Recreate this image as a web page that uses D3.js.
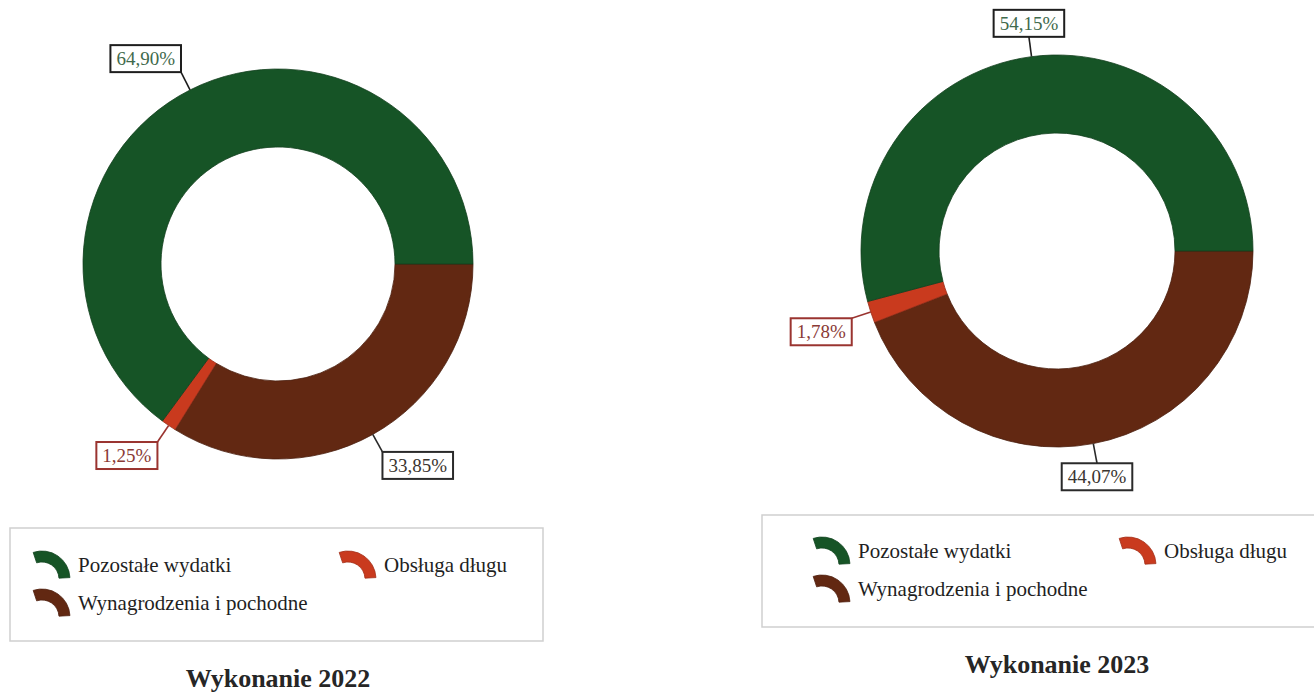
<!DOCTYPE html>
<html>
<head>
<meta charset="utf-8">
<script src="https://cdn.jsdelivr.net/npm/d3@7"></script>
<style>
  html, body { margin: 0; padding: 0; background: #fff; }
  svg { display: block; }
</style>
</head>
<body>
<svg id="chart" width="1314" height="692"></svg>
<script>
// ---- data ----
const categories = ["Wynagrodzenia i pochodne", "Obsługa długu", "Pozostałe wydatki"];
const values2022 = [33.85, 1.25, 64.90];
const values2023 = [44.07, 1.78, 54.15];
const labels2022 = ["33,85%", "1,25%", "64,90%"];
const labels2023 = ["44,07%", "1,78%", "54,15%"];
const titles = ["Wykonanie 2022", "Wykonanie 2023"];
const legendOrder = ["Pozostałe wydatki", "Obsługa długu", "Wynagrodzenia i pochodne"];

// ---- styles ----
const colors = d3.scaleOrdinal()
  .domain(categories)
  .range(["#622812", "#c93a1e", "#165426"]);
const labelText = d3.scaleOrdinal().domain(categories).range(["#3a3530", "#8a3a36", "#3f6a4c"]);
const labelBorder = d3.scaleOrdinal().domain(categories).range(["#2a2a2a", "#9a3430", "#1e1e1e"]);
const serif = "'Liberation Serif', 'Times New Roman', serif";

const svg = d3.select("#chart");

const charts = [
  { values: values2022, labels: labels2022, title: titles[0], cx: 278, cy: 264, R: 195, r: 117,
    titleY: 687,
    legend: { x: 10, y: 528, w: 533, h: 113, col1: 22, col2: 328, text: 46, row1: 24, row2: 62 } },
  { values: values2023, labels: labels2023, title: titles[1], cx: 1057, cy: 251, R: 196, r: 118,
    titleY: 673,
    legend: { x: 762, y: 515, w: 560, h: 112, col1: 50, col2: 356, text: 46, row1: 23, row2: 61 } }
];

charts.forEach(c => {
  const data = categories.map((cat, i) => ({ cat, value: c.values[i], label: c.labels[i] }));
  const pie = d3.pie().sort(null).value(d => d.value)
    .startAngle(Math.PI / 2).endAngle(Math.PI / 2 + 2 * Math.PI);
  const arcs = pie(data);
  const arc = d3.arc().innerRadius(c.r).outerRadius(c.R);

  const g = svg.append("g").attr("transform", `translate(${c.cx},${c.cy})`);
  g.selectAll("path.slice").data(arcs).join("path")
    .attr("class", "slice")
    .attr("d", arc)
    .attr("fill", d => colors(d.data.cat))
    .attr("stroke", d => d3.color(colors(d.data.cat)).darker(0.8))
    .attr("stroke-width", 0.8);

  // labels with leader lines
  arcs.forEach(a => {
    const mid = (a.startAngle + a.endAngle) / 2;
    const sx = Math.sin(mid), sy = -Math.cos(mid);
    const p0 = [c.R * sx, c.R * sy];
    const off = 20;
    const p1 = [(c.R + off) * sx, (c.R + off) * sy];
    g.append("line")
      .attr("x1", p0[0]).attr("y1", p0[1]).attr("x2", p1[0]).attr("y2", p1[1])
      .attr("stroke", labelBorder(a.data.cat)).attr("stroke-width", 1.6);

    const lg = g.append("g");
    const t = lg.append("text")
      .attr("font-family", serif).attr("font-size", 19)
      .attr("fill", labelText(a.data.cat))
      .text(a.data.label);
    const tw = t.node().getComputedTextLength();
    const bw = tw + 12, bh = 27;
    let bx, by;
    if (Math.abs(sx) < 0.2) bx = p1[0] - bw / 2;
    else if (sx < 0) bx = p1[0] - bw;
    else bx = p1[0];
    if (sy < 0) by = p1[1] - bh; else by = p1[1];
    lg.insert("rect", "text")
      .attr("x", bx).attr("y", by).attr("width", bw).attr("height", bh)
      .attr("fill", "#fff")
      .attr("stroke", labelBorder(a.data.cat)).attr("stroke-width", 2);
    t.attr("x", bx + 6).attr("y", by + bh / 2 + 6.5);
  });

  // legend
  const L = c.legend;
  const lgd = svg.append("g").attr("transform", `translate(${L.x},${L.y})`);
  lgd.append("rect")
    .attr("x", 0).attr("y", 0).attr("width", L.w).attr("height", L.h)
    .attr("fill", "#fff").attr("stroke", "#cfcfcf").attr("stroke-width", 1.5);
  const iconArc = d3.arc().innerRadius(17).outerRadius(28)
    .startAngle(-0.32).endAngle(Math.PI / 2 - 0.05);
  const pos = [
    { x: L.col1, y: L.row1 },
    { x: L.col2, y: L.row1 },
    { x: L.col1, y: L.row2 }
  ];
  legendOrder.forEach((name, i) => {
    const p = pos[i];
    const it = lgd.append("g").attr("transform", `translate(${p.x},${p.y})`);
    it.append("path")
      .attr("d", iconArc)
      .attr("transform", "translate(10,27)")
      .attr("fill", colors(name))
      .attr("stroke", d3.color(colors(name)).darker(0.6)).attr("stroke-width", 0.8);
    it.append("text")
      .attr("x", L.text).attr("y", 20)
      .attr("font-family", serif).attr("font-size", 21)
      .attr("fill", "#1f1f1f")
      .text(name);
  });

  // title
  svg.append("text")
    .attr("x", c.cx).attr("y", c.titleY)
    .attr("text-anchor", "middle")
    .attr("font-family", serif).attr("font-size", 26).attr("font-weight", "bold")
    .attr("fill", "#262626")
    .text(c.title);
});
</script>
</body>
</html>
